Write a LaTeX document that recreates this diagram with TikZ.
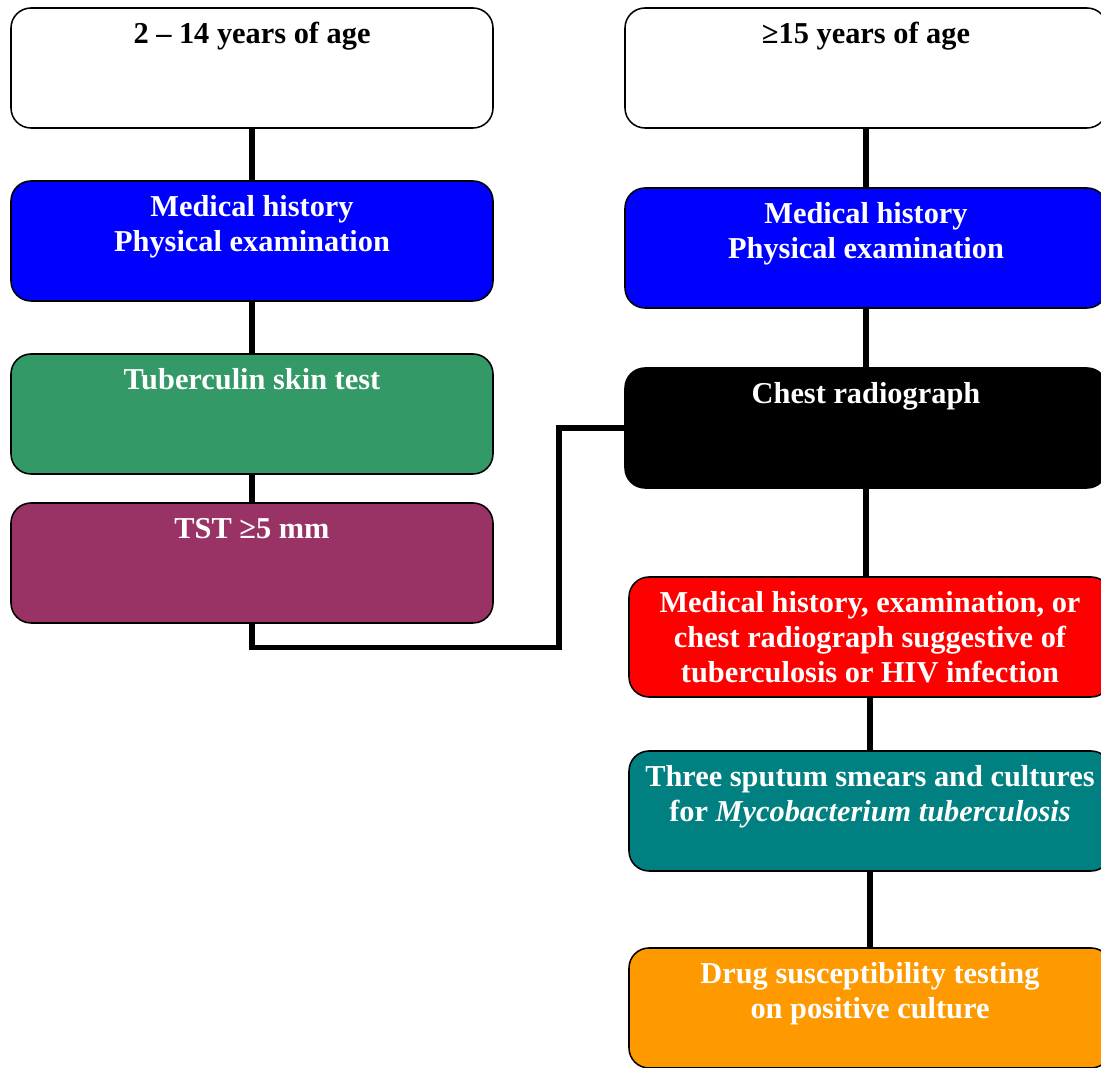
\documentclass[tikz,border=0pt]{standalone}
\usepackage{fontspec}
\setmainfont{Liberation Serif}
\usepackage{tikz}
\usetikzlibrary{positioning,calc}
\definecolor{cblue}{RGB}{0,0,255}
\definecolor{cgreen}{RGB}{51,153,102}
\definecolor{cplum}{RGB}{153,51,102}
\definecolor{cred}{RGB}{255,0,0}
\definecolor{cteal}{RGB}{0,128,128}
\definecolor{corange}{RGB}{255,153,0}
\newcommand{\boxtxt}[1]{\parbox[t][2.8cm][t]{11.9cm}{\centering\fontsize{21.6}{25}\selectfont\bfseries\rule{0pt}{0.78cm}#1}}
\tikzset{
  flowbox/.style={draw=black, line width=1.1pt, rounded corners=0.5cm,
    minimum width=12.05cm, minimum height=3cm, inner sep=0pt, text=white},
  wbox/.style={flowbox, fill=white, text=black},
  link/.style={line width=3.6pt, black},
}
\begin{document}
\begin{tikzpicture}
  \useasboundingbox (0,0) rectangle (27.525,26.7);
  % left column: children
  \node[wbox] (kidage) at (6.3,25.0) {\boxtxt{2 -- 14 years of age}};
  \node[flowbox, fill=cblue] (kidhist) at (6.3,20.675) {\boxtxt{Medical history\\Physical examination}};
  \node[flowbox, fill=cgreen] (kidtst) at (6.3,16.35) {\boxtxt{Tuberculin skin test}};
  \node[flowbox, fill=cplum] (kidpos) at (6.3,12.625) {\boxtxt{TST ≥5 mm}};
  % right column: adults
  \node[wbox] (adultage) at (21.65,25.0) {\boxtxt{≥15 years of age}};
  \node[flowbox, fill=cblue] (adulthist) at (21.65,20.5) {\boxtxt{Medical history\\Physical examination}};
  \node[flowbox, fill=black] (chest) at (21.65,16.0) {\boxtxt{Chest radiograph}};
  \node[flowbox, fill=cred] (suspect) at (21.75,10.775) {\boxtxt{Medical history, examination, or\\chest radiograph suggestive of\\tuberculosis or HIV infection}};
  \node[flowbox, fill=cteal] (sputum) at (21.75,6.425) {\boxtxt{Three sputum smears and cultures\\for \textit{Mycobacterium tuberculosis}}};
  \node[flowbox, fill=corange] (drugtest) at (21.75,1.5) {\boxtxt{Drug susceptibility testing\\on positive culture}};
  \coordinate (bend) at (13.975,16.0);
  % connectors
  \draw[link] (kidage) -- (kidhist);
  \draw[link] (kidhist) -- (kidtst);
  \draw[link] (kidtst) -- (kidpos);
  \draw[link] (kidpos.south) -- ++(0,-0.6) -| (bend) -- (chest.west);
  \draw[link] (adultage) -- (adulthist);
  \draw[link] (adulthist) -- (chest);
  \draw[link] (chest.south) -- (chest.south |- suspect.north);
  \draw[link] (suspect) -- (sputum);
  \draw[link] (sputum) -- (drugtest);
\end{tikzpicture}
\end{document}
